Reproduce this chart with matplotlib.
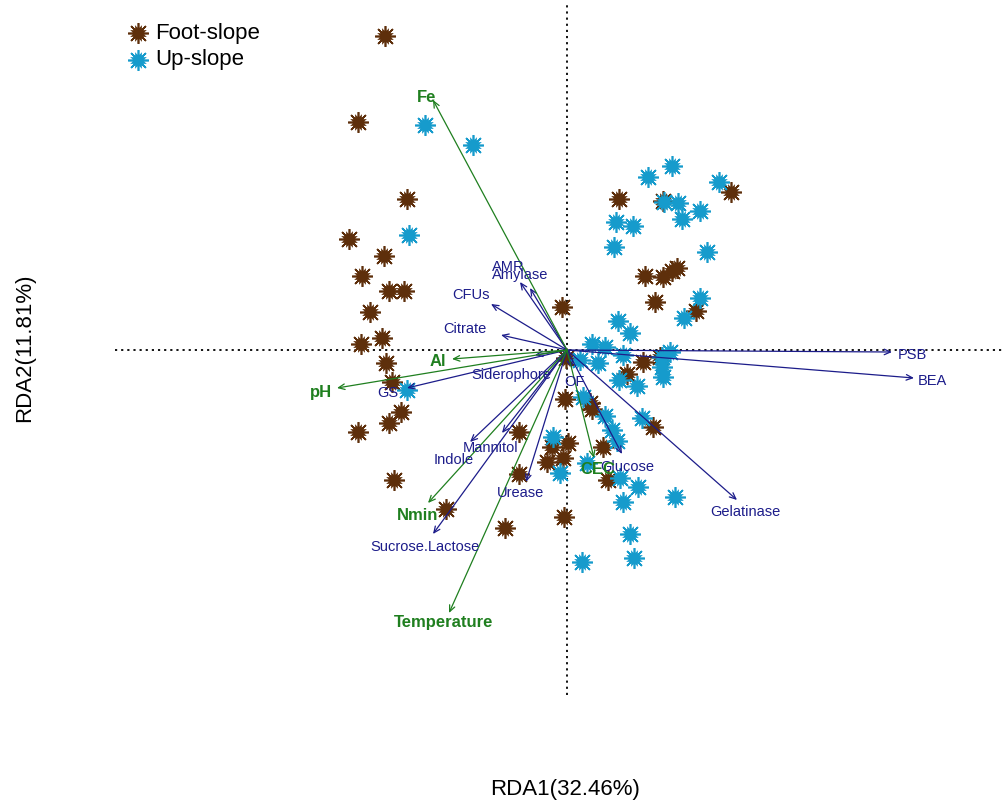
import matplotlib
matplotlib.use("Agg")
import matplotlib.pyplot as plt

plt.rcParams['font.family'] = ['Liberation Sans', 'DejaVu Sans']

# site scores (RDA1, RDA2)
foot_x = [-1.82, -2.09, -1.60, -2.18, -1.83, -2.05, -1.78, -1.63, -1.97, -1.85,
          -2.06, -1.81, -1.75, -1.66, -1.78, -2.09, -1.73, -1.21, -0.62, -0.48,
          -0.48, -0.03, -0.05, -0.01, -0.02, 0.23, 0.25, 0.01, -0.15, -0.20,
          -0.04, 0.36, 0.41, 0.86, 0.76, 0.60, 0.93, 0.52, 0.96, 1.64,
          0.78, 0.96, 1.05, 1.10, 0.88, 1.29]
foot_y = [3.14, 2.28, 1.51, 1.11, 0.94, 0.74, 0.59, 0.59, 0.38, 0.12,
          0.06, -0.13, -0.32, -0.62, -0.73, -0.82, -1.30, -1.59, -1.78, -0.82,
          -1.24, -1.67, 0.43, -0.08, -0.49, -0.53, -0.59, -0.93, -0.97, -1.12,
          -1.08, -0.97, -1.30, -0.77, -0.12, -0.24, -0.07, 1.51, 1.49, 1.58,
          0.74, 0.73, 0.79, 0.82, 0.48, 0.39]

up_x = [-1.42, -0.94, -1.58, -1.60, 0.81, 1.05, 1.52, 1.11, 0.97, 1.33,
        1.15, 0.49, 0.66, 0.47, 1.40, 1.33, 1.17, 0.51, 0.63, 0.25,
        0.38, 0.31, 0.56, 0.95, 1.03, 0.95, 0.96, 0.52, 0.70, 0.75,
        0.38, 0.45, 0.50, -0.14, -0.07, 0.20, 0.53, 0.71, 0.56, 1.08,
        0.63, 0.67, 0.15, 0.13, 0.16]
up_y = [2.25, 2.05, 1.15, -0.40, 1.73, 1.84, 1.68, 1.47, 1.48, 1.39,
        1.31, 1.28, 1.24, 1.03, 0.98, 0.52, 0.32, 0.29, 0.17, 0.06,
        0.03, -0.13, -0.05, -0.07, -0.02, -0.17, -0.27, -0.30, -0.36, -0.68,
        -0.66, -0.80, -0.91, -0.87, -1.23, -1.13, -1.28, -1.37, -1.52, -1.47,
        -1.84, -2.08, -2.12, -0.10, -0.47]

# response (microbial trait) arrows
trait_names = ['PSB', 'BEA', 'Gelatinase', 'Glucose', 'OF', 'Urease', 'Mannitol',
               'Indole', 'Sucrose.Lactose', 'Siderophore', 'GS', 'Citrate',
               'CFUs', 'AMR', 'Amylase']
trait_x = [3.25, 3.47, 1.70, 0.55, 0.05, -0.41, -0.65, -0.97, -1.34, -0.32,
           -1.60, -0.66, -0.76, -0.47, -0.37]
trait_y = [-0.02, -0.28, -1.50, -1.04, -0.18, -1.32, -0.83, -0.92, -1.84, -0.05,
           -0.38, 0.15, 0.46, 0.68, 0.62]

# explanatory (soil / site) arrows
env_names = ['Fe', 'Al', 'pH', 'Nmin', 'Temperature', 'CEC']
env_x = [-1.34, -1.15, -2.30, -1.39, -1.18, 0.27]
env_y = [2.50, -0.09, -0.38, -1.53, -2.63, -1.08]

BROWN = '#5e2f0b'
CYAN = '#169bcc'
BLUE = '#1c1c8a'
GREEN = '#1f7f1f'

# label offsets from arrow tips, in pixels
trait_off = [(20, -3), (18, -3), (8, -12), (5, -13), (2, -14), (-6, -11), (-11, -15),
             (-16, -18), (-8, -13), (-24, -20), (-19, -5), (-36, 6), (-20, 9),
             (-12, 15), (-10, 13)]
env_off = [(-6, 3), (-14, -3), (-16, -4), (-10, -13), (-5, -9), (4, -12)]

W, H = 1008, 807
fig = plt.figure(figsize=(W / 100, H / 100), dpi=100)
ax = fig.add_axes([115 / W, (H - 695) / H, 890 / W, 690 / H])
ax.set_xlim(-4.52, 4.38)
ax.set_ylim(-3.45, 3.45)
ax.axis('off')

ax.axhline(0, color='black', lw=1.3, ls=(0, (1.2, 2.2)), zorder=1)
ax.axvline(0, color='black', lw=1.3, ls=(0, (1.2, 2.2)), zorder=1)


def sun(axis, x, y, color, **kw):
    # spiky sun-like marker: filled core plus eight rays
    axis.plot(x, y, ls='none', marker=(8, 2, 0), ms=15, mew=1.2,
              mec=color, **kw)
    axis.plot(x, y, ls='none', marker=(8, 1, 22.5), ms=13, mew=0,
              mfc=color, **kw)
    axis.plot(x, y, ls='none', marker='o', ms=8.5, mew=0, mfc=color, **kw)


sun(ax, foot_x, foot_y, BROWN, zorder=2)
sun(ax, up_x, up_y, CYAN, zorder=2)


def arrows(xs, ys, names, offs, color, **txt):
    for x, y, name, off in zip(xs, ys, names, offs):
        ax.annotate('', xy=(x, y), xytext=(0, 0),
                    arrowprops=dict(arrowstyle='->,head_length=0.45,head_width=0.2',
                                    color=color, lw=0.9, shrinkA=0, shrinkB=0),
                    zorder=3)
        ax.annotate(name, xy=(x, y), xytext=off, textcoords='offset pixels',
                    ha='center', va='center', color=color, zorder=4, **txt)


arrows(trait_x, trait_y, trait_names, trait_off, BLUE, fontsize=10.5)
arrows(env_x, env_y, env_names, env_off, GREEN, fontsize=12, fontweight='bold')

# legend
lax = fig.add_axes([0, 0, 1, 1], facecolor='none')
lax.set_xlim(0, W)
lax.set_ylim(H, 0)
lax.axis('off')
sun(lax, [138], [33], BROWN)
sun(lax, [138], [60], CYAN)
lax.text(155, 33, 'Foot-slope', fontsize=16, va='center', ha='left')
lax.text(155, 60, 'Up-slope', fontsize=16, va='center', ha='left')

fig.text(565 / W, 1 - 790 / H, 'RDA1(32.46%)', fontsize=16, ha='center', va='center')
fig.text(25 / W, 1 - 348 / H, 'RDA2(11.81%)', fontsize=16, ha='center', va='center',
         rotation=90)

fig.savefig('out.png', dpi=100)
